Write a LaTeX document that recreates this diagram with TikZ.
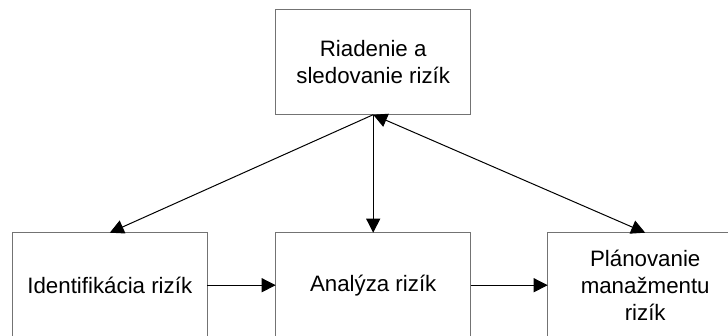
\documentclass[tikz,border=0pt]{standalone}
\usepackage{fontspec}
\setmainfont{Liberation Sans}
\usetikzlibrary{arrows.meta}
\begin{document}
\begin{tikzpicture}[x=1pt, y=-1pt, line width=1pt,
	stepbox/.style={draw=black!55, minimum width=195pt, minimum height=105pt, inner sep=0pt, outer sep=0pt, align=center, font=\fontsize{22.3pt}{26.7pt}\selectfont},
	link/.style={draw=black, -{Triangle[length=14pt, width=14pt]}},
	biglink/.style={draw=black, {Triangle[length=14pt, width=14pt]}-{Triangle[length=14pt, width=14pt]}}]
			\useasboundingbox (0, 0) rectangle (728, 335);
			\clip (0, 0) rectangle (728, 335);
			\node[stepbox] (riadenie) at (373.2, 62.2){Riadenie a\\sledovanie rizík};
			\node[stepbox] (identifikacia) at (109.8, 285.2){Identifikácia rizík};
			\node[stepbox] (analyza) at (373.2, 285.2){Analýza rizík};
			\node[stepbox] (planovanie) at (645.2, 285.2){Plánovanie\\manažmentu\\rizík};
			\path[link] (riadenie.south) -- (identifikacia.north);
			\path[link] (riadenie.south) -- (analyza.north);
			\path[biglink] (riadenie.south) -- (planovanie.north); % both ways
			\path[link] (identifikacia.east) -- (analyza.west);
			\path[link] (analyza.east) -- (planovanie.west);
		\end{tikzpicture}
\end{document}
